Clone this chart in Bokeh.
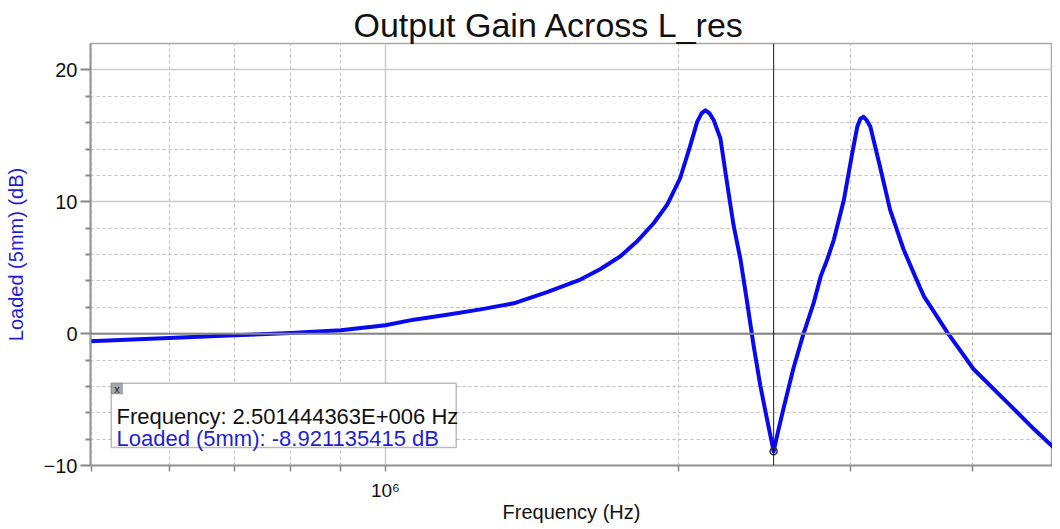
from bokeh.plotting import figure
from bokeh.models import Span, Label, BoxAnnotation, FixedTicker, Range1d
from bokeh.embed import file_html
from bokeh.resources import INLINE

# ---- data ----
freq_hz = [4.92e5, 6.0e5, 7.0e5, 8.0e5, 9.0e5, 1.0e6, 1.069e6, 1.157e6, 1.252e6,
           1.354e6, 1.465e6, 1.585e6, 1.662e6, 1.742e6, 1.812e6, 1.885e6, 1.945e6,
           2.006e6, 2.055e6, 2.088e6, 2.11e6, 2.129e6, 2.15e6, 2.171e6, 2.206e6,
           2.24e6, 2.275e6, 2.313e6, 2.35e6, 2.386e6, 2.424e6, 2.462e6, 2.5014e6,
           2.53e6, 2.56e6, 2.62e6, 2.68e6, 2.75e6, 2.796e6, 2.839e6, 2.884e6,
           2.953e6, 3.012e6, 3.048e6, 3.07e6, 3.094e6, 3.115e6, 3.143e6, 3.216e6,
           3.293e6, 3.4e6, 3.51e6, 3.566e6, 3.77e6, 4.01e6, 4.34e6, 4.62e6,
           4.88e6, 4.95e6]
gain_db = [-0.6, -0.33, -0.13, 0.05, 0.25, 0.63, 1.06, 1.43, 1.84,
           2.3, 3.15, 4.1, 4.9, 5.87, 7.0, 8.39, 9.77,
           11.8, 14.3, 16.06, 16.7, 16.94, 16.7, 16.2, 14.8,
           11.5, 8.26, 5.62, 2.35, -0.92, -3.94, -6.45, -8.92,
           -7.3, -5.7, -2.68, -0.17, 2.35, 4.36, 5.62, 7.13,
           10.15, 13.7, 15.7, 16.3, 16.44, 16.2, 15.7, 12.66,
           9.4, 6.38, 4.0, 2.85, 0.09, -2.68, -5.19, -7.2,
           -8.85, -9.3]

cursor_freq = 2.501444363e6
cursor_db = -8.921135415
x_major_ticks = [1000000]
x_minor_ticks = [5e5, 6e5, 7e5, 8e5, 9e5, 2e6, 3e6, 4e6]
x_tick_labels = {1000000: "10\u2076"}
y_major_ticks = [-10, 0, 10, 20]
y_minor_ticks = [-8, -6, -4, -2, 2, 4, 6, 8, 12, 14, 16, 18]

FONT = "Liberation Sans"
BLUE = "#0a0af0"
LABEL_BLUE = "#1f1fd0"

p = figure(width=1052, height=525, x_axis_type="log",
           x_range=Range1d(4.983e5, 4.833e6), y_range=Range1d(-10, 22),
           output_backend="svg", toolbar_location=None,
           min_border_left=90, min_border_right=0, min_border_top=43,
           min_border_bottom=58, background_fill_color="white",
           border_fill_color="white")

p.outline_line_color = "#a8a8a8"
p.outline_line_width = 1.5

# title
p.title.text = "Output Gain Across L_res"
p.title.text_font = FONT
p.title.text_font_size = "34px"
p.title.text_font_style = "normal"
p.title.text_color = "#111111"
p.title.align = "left"
p.title.offset = 263
p.title.standoff = 0

# axes
xa = p.xaxis[0]
xa.ticker = FixedTicker(ticks=x_major_ticks, minor_ticks=x_minor_ticks)
xa.major_label_overrides = x_tick_labels
xa.axis_label = "Frequency (Hz)"
xa.axis_label_text_font = FONT
xa.axis_label_text_font_size = "20px"
xa.axis_label_text_font_style = "normal"
xa.axis_label_text_color = "#111111"
xa.axis_label_standoff = -3
xa.major_label_text_font = FONT
xa.major_label_text_font_size = "19px"
xa.major_label_text_color = "#111111"
xa.major_label_standoff = 8
xa.axis_line_color = "#999999"
xa.axis_line_width = 2
xa.major_tick_line_color = "#888888"
xa.minor_tick_line_color = "#888888"
xa.major_tick_line_width = 1.5
xa.minor_tick_line_width = 1.5
xa.major_tick_out = 6
xa.major_tick_in = 0
xa.minor_tick_out = 6
xa.minor_tick_in = 0

ya = p.yaxis[0]
ya.ticker = FixedTicker(ticks=y_major_ticks, minor_ticks=y_minor_ticks)
ya.axis_label = "Loaded (5mm) (dB)"
ya.axis_label_text_font = FONT
ya.axis_label_text_font_size = "20px"
ya.axis_label_text_font_style = "normal"
ya.axis_label_text_color = LABEL_BLUE
ya.axis_label_standoff = 14
ya.major_label_text_font = FONT
ya.major_label_text_font_size = "20px"
ya.major_label_text_color = "#111111"
ya.major_label_standoff = 3
ya.axis_line_color = "#999999"
ya.axis_line_width = 2
ya.major_tick_line_color = "#888888"
ya.minor_tick_line_color = "#888888"
ya.major_tick_line_width = 2
ya.minor_tick_line_width = 2
ya.major_tick_out = 10
ya.major_tick_in = 0
ya.minor_tick_out = 5
ya.minor_tick_in = 0

# grids
for g in (p.xgrid[0], p.ygrid[0]):
    g.grid_line_color = "#cccccc"
    g.grid_line_width = 1.5
    g.minor_grid_line_color = "#bdbdbd"
    g.minor_grid_line_width = 1
    g.minor_grid_line_dash = "3 3"

# zero line and cursor
p.add_layout(Span(location=0, dimension="width", line_color="#858585", line_width=2))
p.add_layout(Span(location=cursor_freq, dimension="height", line_color="#1a1a1a", line_width=1))

# curve
p.line(freq_hz, gain_db, line_color=BLUE, line_width=4, line_join="round")
p.scatter([cursor_freq], [cursor_db], marker="circle", size=7,
          fill_color=None, line_color="#333333", line_width=1.5)

# cursor readout box
p.add_layout(BoxAnnotation(left=5.233e5, right=1.182e6, top=-3.76, bottom=-8.64,
                           fill_color="white", fill_alpha=1.0,
                           line_color="#222222", line_width=1.5))
p.add_layout(BoxAnnotation(left=5.236e5, right=5.374e5, top=-3.76, bottom=-4.57,
                           fill_color="#a8a8a8", fill_alpha=1.0,
                           line_color="#444444", line_width=1))
p.add_layout(Label(x=5.305e5, y=-4.17, text="x", text_align="center",
                   text_baseline="middle", text_font=FONT, text_font_size="11px",
                   text_color="#222222"))
p.add_layout(Label(x=5.298e5, y=-6.25,
                   text="Frequency: %.9fE+006 Hz" % (cursor_freq / 1e6),
                   text_baseline="alphabetic", text_font=FONT,
                   text_font_size="22px", text_color="#111111"))
p.add_layout(Label(x=5.298e5, y=-7.96,
                   text="Loaded (5mm): %.9f dB" % cursor_db,
                   text_baseline="alphabetic", text_font=FONT,
                   text_font_size="22px", text_color=LABEL_BLUE))

open("out.html", "w").write(file_html(p, INLINE))
